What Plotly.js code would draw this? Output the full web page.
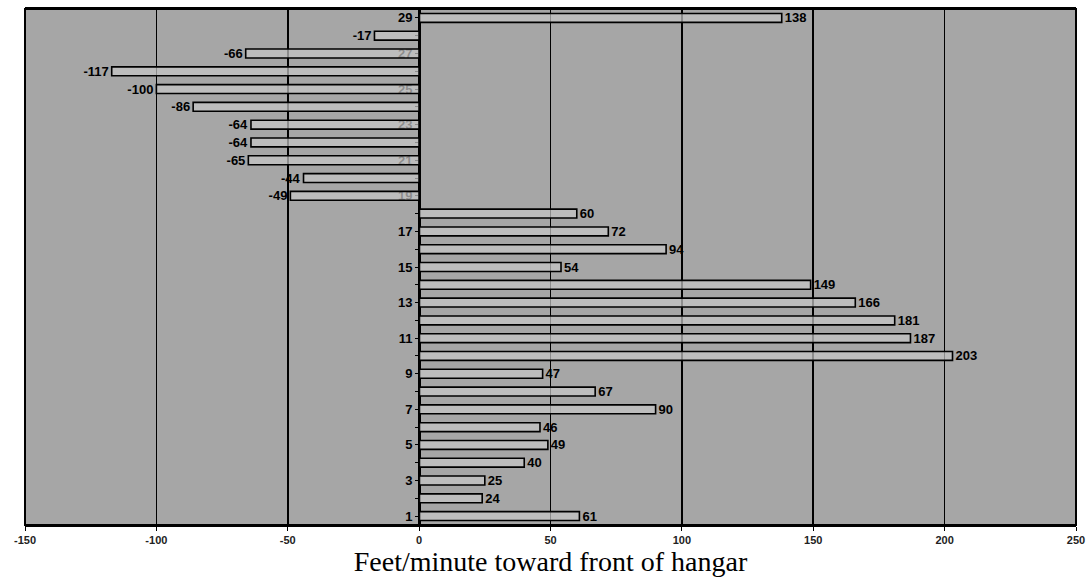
<!DOCTYPE html>
<html>
<head>
<meta charset="utf-8">
<script src="https://cdn.plot.ly/plotly-3.0.1.min.js"></script>
<style>html,body{margin:0;padding:0;background:#fff;}#chart{width:1092px;height:587px;}</style>
</head>
<body>
<div id="chart"></div>
<script>
const categories = [1,2,3,4,5,6,7,8,9,10,11,12,13,14,15,16,17,18,19,20,21,22,23,24,25,26,27,28,29];
const values = [61,24,25,40,49,46,90,67,47,203,187,181,166,149,54,94,72,60,-49,-44,-65,-64,-64,-86,-100,-117,-66,-17,138];
const yTickText = categories.map(c => (c % 2 === 1 ? String(c) : ''));
const xTickVals = [-150,-100,-50,0,50,100,150,200,250];

const trace = {
  type: 'bar',
  orientation: 'h',
  y: categories,
  x: values,
  width: 0.5,
  marker: {color: 'rgba(200,200,200,0.7)', line: {color: '#000', width: 1.6}},
  text: values.map(String),
  textposition: 'outside',
  constraintext: 'none',
  cliponaxis: false,
  textfont: {family: 'Liberation Sans, Arial, sans-serif', size: 13, color: '#000', weight: 'bold'},
  hoverinfo: 'none'
};

const layout = {
  width: 1092, height: 587,
  margin: {l: 25, r: 16, t: 9, b: 62},
  paper_bgcolor: '#ffffff',
  plot_bgcolor: '#a6a6a6',
  showlegend: false,
  bargap: 0.5,
  xaxis: {
    range: [-150, 250],
    tickvals: xTickVals,
    ticktext: xTickVals.map(String),
    showgrid: true, gridcolor: '#000', gridwidth: 1.6,
    zeroline: false,
    showline: true, linecolor: '#000', linewidth: 2, mirror: true,
    ticks: 'outside', ticklen: 4, tickcolor: '#000',
    tickfont: {family: 'Liberation Sans, Arial, sans-serif', size: 11, color: '#222', weight: 'bold'},
    title: {text: 'Feet/minute toward front of hangar', standoff: 4,
            font: {family: 'Liberation Serif, Times New Roman, serif', size: 28, color: '#000'}},
    fixedrange: true
  },
  yaxis: {
    range: [0.5, 29.5],
    tickvals: categories,
    ticktext: yTickText,
    anchor: 'free',
    position: 0.375,
    showgrid: false,
    zeroline: false,
    showline: true, linecolor: '#000', linewidth: 1.6,
    ticks: 'outside', ticklen: 4, tickcolor: '#000',
    tickfont: {family: 'Liberation Sans, Arial, sans-serif', size: 13, color: '#000', weight: 'bold'},
    layer: 'below traces',
    fixedrange: true
  },
  shapes: [
    {type: 'rect', xref: 'paper', yref: 'paper', x0: 0, x1: 1, y0: 0, y1: 1,
     line: {color: '#000', width: 2}, fillcolor: 'rgba(0,0,0,0)'}
  ]
};

Plotly.newPlot('chart', [trace], layout, {staticPlot: true, displayModeBar: false});
</script>
</body>
</html>
